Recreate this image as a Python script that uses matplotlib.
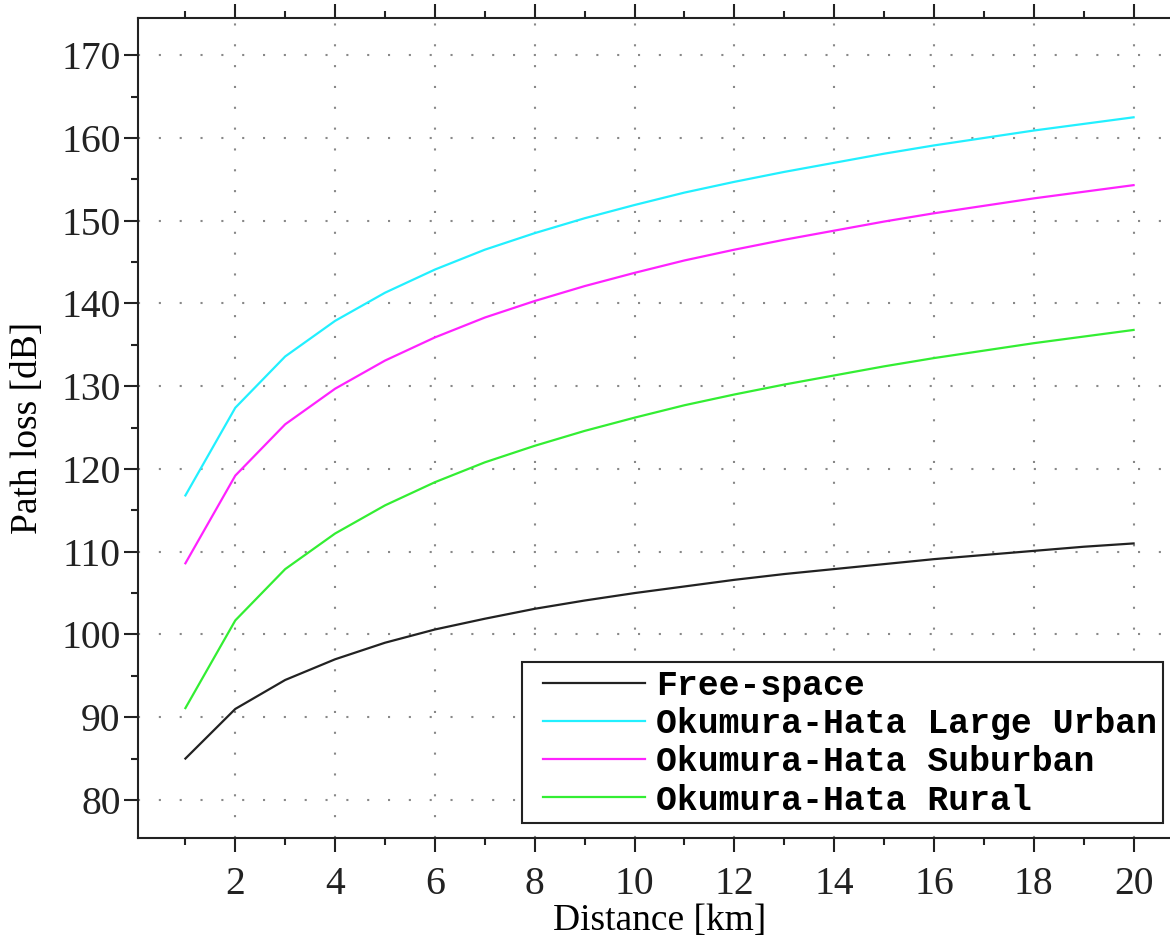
import numpy as np
import matplotlib
matplotlib.use('Agg')
import matplotlib.pyplot as plt
from matplotlib.ticker import MultipleLocator
from matplotlib.patches import Rectangle

# distance in km
distance = [1, 2, 3, 4, 5, 6, 7, 8, 9, 10, 11, 12, 13, 14, 15, 16, 17, 18, 19, 20]

free_space = [85.0, 91.0, 94.5, 97.0, 99.0, 100.6, 101.9, 103.1, 104.1, 105.0,
              105.8, 106.6, 107.3, 107.9, 108.5, 109.1, 109.6, 110.1, 110.6, 111.0]
large_urban = [116.8, 127.4, 133.6, 137.9, 141.3, 144.1, 146.5, 148.5, 150.3, 151.9,
               153.4, 154.7, 155.9, 157.0, 158.1, 159.1, 160.0, 160.9, 161.7, 162.5]
suburban = [108.6, 119.2, 125.4, 129.7, 133.1, 135.9, 138.3, 140.3, 142.1, 143.7,
            145.2, 146.5, 147.7, 148.8, 149.9, 150.9, 151.8, 152.7, 153.5, 154.3]
rural = [91.1, 101.7, 107.9, 112.2, 115.6, 118.4, 120.8, 122.8, 124.6, 126.2,
         127.7, 129.0, 130.2, 131.3, 132.4, 133.4, 134.3, 135.2, 136.0, 136.8]

series_labels = ["Free-space", "Okumura-Hata Large Urban", "Okumura-Hata Suburban", "Okumura-Hata Rural"]
series_colors = ["#222222", "#22f0ff", "#ff22ff", "#33ee33"]

plt.rcParams['font.family'] = 'Liberation Serif'

W, H = 1170, 941
fig = plt.figure(figsize=(W / 100, H / 100), dpi=100)
ax = fig.add_axes([138 / W, 1 - 838 / H, (1181 - 138) / W, (838 - 18) / H])

for ys, lab, col in zip([free_space, large_urban, suburban, rural], series_labels, series_colors):
    ax.plot(distance, ys, color=col, lw=1.6, label=lab)

ax.set_xlim(0.05, 20.95)
ax.set_ylim(75.4, 174.5)
ax.xaxis.set_major_locator(MultipleLocator(2))
ax.xaxis.set_minor_locator(MultipleLocator(1))
ax.yaxis.set_major_locator(MultipleLocator(10))
ax.yaxis.set_minor_locator(MultipleLocator(5))

ax.grid(True, which='major', color='#888888', linestyle=(0, (1, 9)), lw=1.5)
ax.tick_params(axis='both', which='both', direction='out', width=1.5, colors='#222222', labelsize=28.5)
ax.tick_params(axis='both', which='major', length=10)
ax.tick_params(axis='both', which='minor', length=5)
ax.tick_params(axis='x', which='both', top=True, pad=10)
ax.tick_params(axis='y', which='both', pad=2.5)
for sp in ax.spines.values():
    sp.set_linewidth(1.5)
    sp.set_color('#222222')

ax.set_xlabel("Distance [km]", fontsize=27)
ax.xaxis.set_label_coords(0.5, -0.08)
ax.set_ylabel("Path loss [dB]", fontsize=27)
ax.yaxis.set_label_coords(-0.089, 0.5)

# legend content without frame, frame drawn separately (uneven padding like the original)
leg = ax.legend(loc='upper left', bbox_to_anchor=(543 / W, 1 - 669 / H), bbox_transform=fig.transFigure,
                prop={'family': 'Liberation Mono', 'weight': 'bold', 'size': 25},
                frameon=False, handlelength=2.95, handletextpad=0.3, labelspacing=0.15,
                borderpad=0, borderaxespad=0)
fig.canvas.draw()
bb = leg.get_window_extent().transformed(fig.transFigure.inverted())
frame = Rectangle((bb.x0 - 21 / W, bb.y0 - 6 / H), bb.width + 27 / W, bb.height + 13 / H,
                  transform=fig.transFigure, facecolor='white', edgecolor='#222222', lw=1.5, zorder=4)
fig.add_artist(frame)
leg.set_zorder(5)
leg.remove()
fig.add_artist(leg)

fig.savefig("out.png", dpi=100)
